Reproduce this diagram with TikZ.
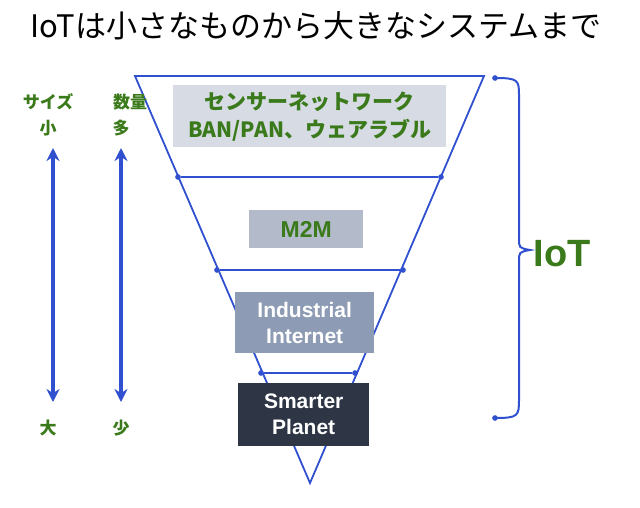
\documentclass[tikz,border=0pt]{standalone}
\usepackage{fontspec}
\setmainfont{Noto Sans CJK JP}
\newfontfamily\jpb{Noto Sans CJK JP Black}
\newfontfamily\lab{Liberation Sans Bold}
\usetikzlibrary{arrows.meta}
\definecolor{tri}{HTML}{3050D0}
\definecolor{gtxt}{HTML}{3A7A1A}
\definecolor{b1}{HTML}{D6DBE4}
\definecolor{b2}{HTML}{B3BBCA}
\definecolor{b3}{HTML}{8D9CB4}
\definecolor{b4}{HTML}{2E3646}
\tikzset{
 edge/.style={tri,line width=1.8pt},
 dotm/.style={circle,fill=tri,inner sep=2pt},
 box/.style={inner sep=0pt,anchor=north west,align=center,font=\lab\fontsize{21}{26}\selectfont},
 gl/.style={text=gtxt,font=\jpb\fontsize{17}{19}\selectfont},
 dar/.style={tri,line width=4pt,{Stealth[length=13pt,width=13pt]}-{Stealth[length=13pt,width=13pt]}}
}
\begin{document}
\begin{tikzpicture}[x=1pt,y=-1pt]
\useasboundingbox (0,0) rectangle (640,507);
\node (title) at (316,26) {\fontsize{31}{34}\selectfont IoTは小さなものから大きなシステムまで};
\coordinate (tl) at (135,76); \coordinate (tr) at (484,76); \coordinate (ap) at (310,483);
\draw[edge] (tl) -- (tr) -- (ap) -- cycle;
\foreach \n/\y/\a/\b in {l2/177/178/441, l3/270/217/403, l4/373/261/355}{
 \node[dotm] (\n a) at (\a,\y) {}; \node[dotm] (\n b) at (\b,\y) {};
 \draw[edge] (\n a) -- (\n b);
}
\node[box,fill=b1,minimum width=273pt,minimum height=62pt,text=gtxt,font=\jpb\fontsize{21}{28}\selectfont] (s1) at (173,85) {センサーネットワーク\\BAN/PAN、ウェアラブル};
\node[box,fill=b2,minimum width=114pt,minimum height=38pt,text=gtxt,font=\lab\fontsize{23}{25}\selectfont] (s2) at (249,210) {M2M};
\node[box,fill=b3,minimum width=139pt,minimum height=61pt,text=white] (s3) at (235,292) {Industrial\\Internet};
\node[box,fill=b4,minimum width=131pt,minimum height=63pt,text=white] (s4) at (238,383) {Smarter\\Planet};
\node[dotm] (bt) at (495,78) {}; \node[dotm] (bb) at (495,418) {};
\draw[tri,line width=2pt] (bt.center) .. controls (518,78) and (519,80) .. (519,95) -- (519,238) .. controls (519,248) .. (530,250) .. controls (519,252) .. (519,262) -- (519,400) .. controls (519,416) and (518,418) .. (bb.center);
\node[text=gtxt,font=\lab\fontsize{38}{40}\selectfont,anchor=west] (iot) at (530,254) {IoT};
\node[gl] (sz) at (48,102) {サイズ}; \node[gl] (sm) at (48,128) {小}; \node[gl] (lg) at (48,428) {大};
\node[gl] (qt) at (130,102) {数量}; \node[gl] (mn) at (121,128) {多}; \node[gl] (fw) at (121,428) {少};
\draw[dar] (53,148) -- (53,402);
\draw[dar] (121,148) -- (121,402);
\end{tikzpicture}
\end{document}
